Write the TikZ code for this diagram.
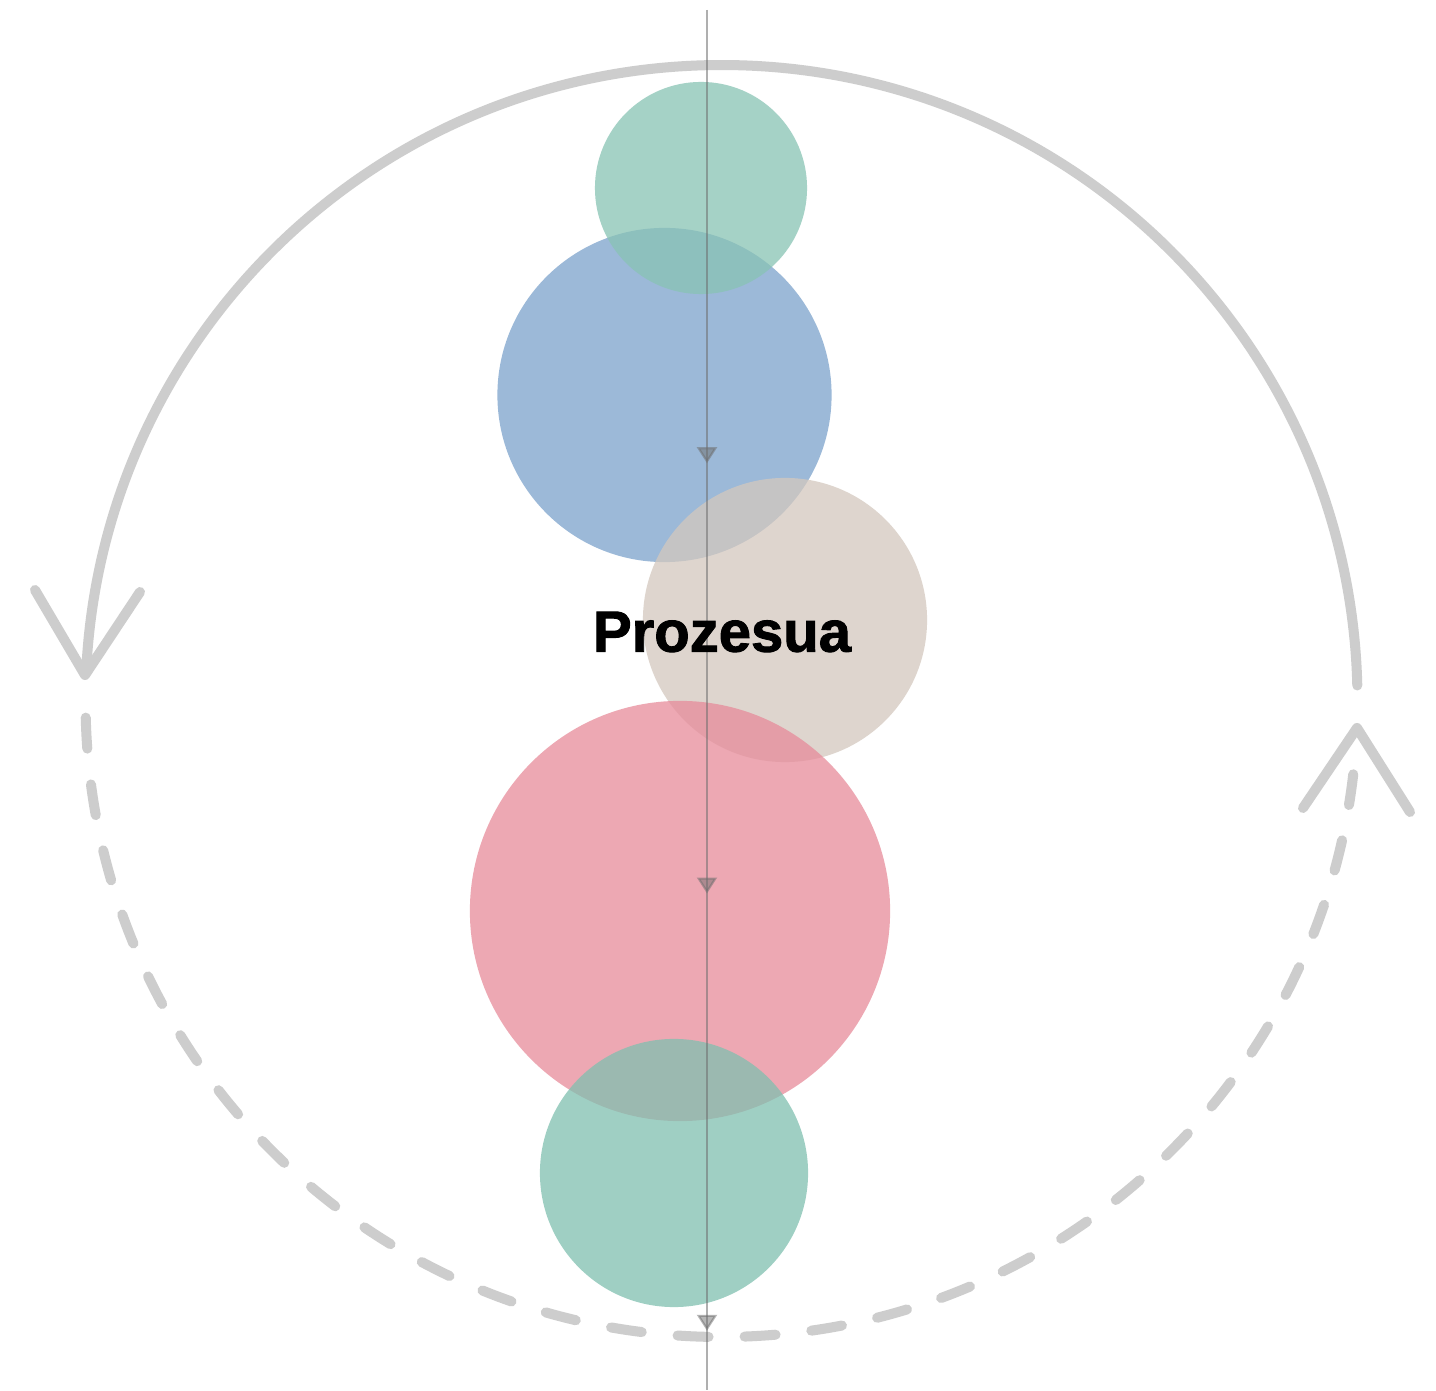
\documentclass[tikz,border=0pt]{standalone}
\usepackage{fontspec}
\setmainfont{Liberation Sans}
\newfontfamily\heavyfont[FakeBold=1.6]{Liberation Sans Bold}
\usetikzlibrary{arrows.meta,decorations.markings}
\definecolor{ringgray}{RGB}{205,205,205}
\definecolor{axisgray}{RGB}{110,110,110}
\definecolor{cgreen}{RGB}{136,195,180}
\definecolor{cgreenb}{RGB}{128,192,176}
\definecolor{cblue}{RGB}{123,162,203}
\definecolor{cbeige}{RGB}{212,200,190}
\definecolor{cpink}{RGB}{231,139,154}
\tikzset{
  ring/.style={draw=ringgray, line width=2.85pt, line cap=round, line join=round},
  ringdash/.style={ring, dash pattern=on 0.31cm off 0.36cm},
  blob/.style={circle, inner sep=0pt, draw=none, fill opacity=0.75},
  axis/.style={draw=axisgray, draw opacity=0.55, line width=0.6pt,
    postaction={decorate},
    decoration={markings,
      mark=at position 4.53cm with {\arrow[axisgray, opacity=0.5]{Triangle[width=2mm,length=1.6mm]}},
      mark=at position 8.83cm with {\arrow[axisgray, opacity=0.5]{Triangle[width=2mm,length=1.6mm]}},
      mark=at position 13.2cm with {\arrow[axisgray, opacity=0.5]{Triangle[width=2mm,length=1.6mm]}}}},
  label/.style={font=\heavyfont\fontsize{16.5pt}{20pt}\selectfont, text=black, inner sep=0pt}
}
\begin{document}
\begin{tikzpicture}[x=0.01cm, y=0.01cm]
\useasboundingbox (0,0) rectangle (1436,1390);
\fill[white] (0,0) rectangle (1436,1390);
% ring centre
\coordinate (C) at (721.5,689);
% solid upper arc
\draw[ring] (C) ++(1.4:636) coordinate (RS) arc[start angle=1.4, end angle=177.3, radius=636] coordinate (LS);
% dashed lower arc
\draw[ringdash] (C) ++(181.5:636) coordinate (LD) arc[start angle=181.5, end angle=355.5, radius=636] coordinate (RD);
% open arrowheads
\coordinate (LT) at (85,715);
\coordinate (LA1) at (35,800);
\coordinate (LA2) at (140,798);
\draw[ring] (LA1) -- (LT) -- (LA2);
\coordinate (RT) at (1357,662);
\coordinate (RA1) at (1303,582);
\coordinate (RA2) at (1410,578);
\draw[ring] (RA1) -- (RT) -- (RA2);
% circles
\node[blob, fill=cblue, minimum size=3.34cm] (blue) at (664.5,995) {};
\node[blob, fill=cgreen, minimum size=2.12cm] (green1) at (701,1202) {};
\node[blob, fill=cbeige, minimum size=2.84cm] (beige) at (785,770) {};
\node[blob, fill=cpink, minimum size=4.20cm] (pink) at (680,479) {};
\node[blob, fill=cgreenb, minimum size=2.68cm] (green2) at (674,217) {};
% axis
\coordinate (AT) at (707,1380);
\coordinate (AB) at (707,0);
\draw[axis] (AT) -- (AB);
% label
\node[label] (txt) at (722,758) {Prozesua};
\end{tikzpicture}
\end{document}
